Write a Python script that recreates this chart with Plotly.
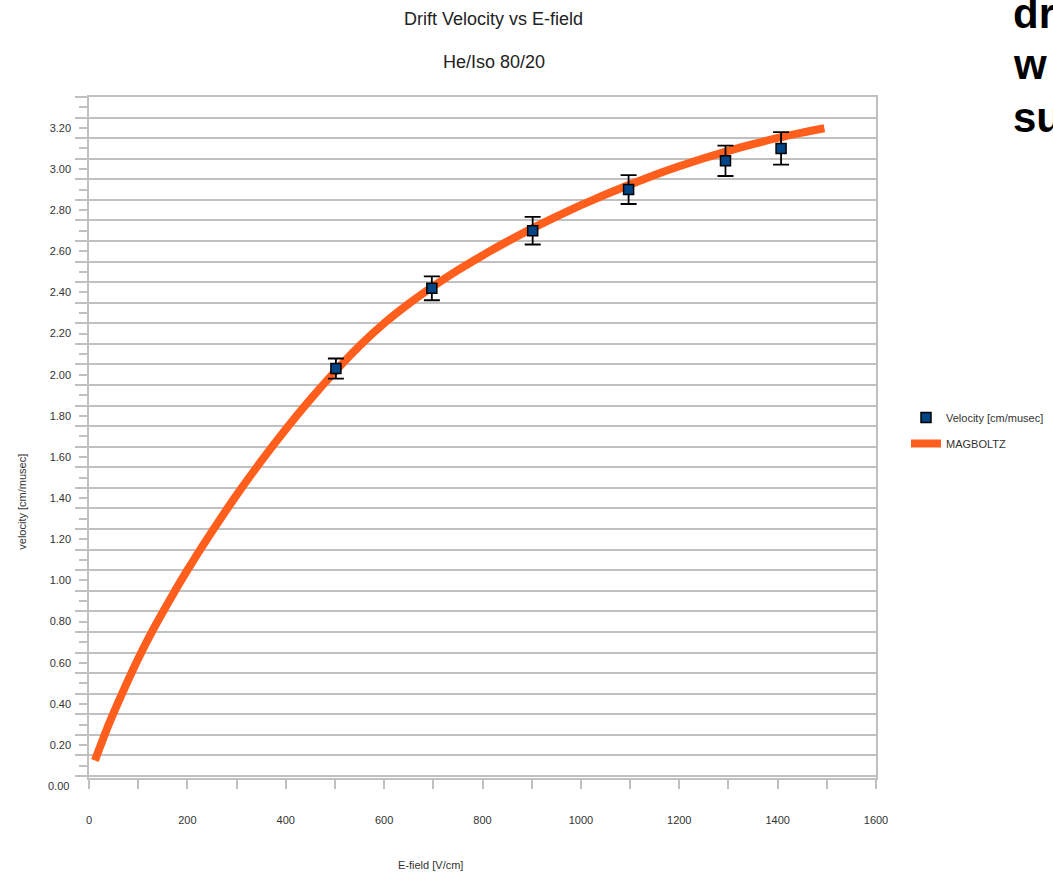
import plotly.graph_objects as go

# MAGBOLTZ simulation curve (E-field [V/cm], velocity [cm/musec])
mag_E = [12, 40, 70, 100, 130, 170, 200, 230, 270, 300, 350, 400, 450, 500, 550,
         600, 650, 700, 750, 800, 850, 900, 950, 1000, 1050, 1100, 1150, 1200,
         1250, 1300, 1350, 1400, 1450, 1495]
mag_v = [0.125, 0.30, 0.465, 0.62, 0.76, 0.93, 1.05, 1.165, 1.31, 1.415, 1.58, 1.735,
         1.88, 2.015, 2.14, 2.25, 2.345, 2.43, 2.508, 2.58, 2.647, 2.71, 2.769, 2.824,
         2.876, 2.925, 2.971, 3.013, 3.052, 3.088, 3.121, 3.151, 3.177, 3.198]

# Measured velocity points with error bars
meas_E = [502, 697, 902, 1097, 1294, 1407]
meas_v = [2.03, 2.42, 2.70, 2.90, 3.04, 3.10]
meas_err = [0.049, 0.058, 0.067, 0.070, 0.074, 0.079]

# Axis ticks
x_ticks = list(range(0, 1700, 100))
x_labels = [str(v) if v % 200 == 0 else "" for v in x_ticks]
y_ticks = [round(0.1 * i, 1) for i in range(0, 34)]
y_labels = [f"{v:.2f}" if i % 2 == 0 else "" for i, v in enumerate(y_ticks)]
y_grid = [round(0.05 + 0.1 * i, 2) for i in range(0, 34)]

GRID = "#c0c0c0"
TXT = "#333333"
FONT = "Liberation Sans, Arial, sans-serif"

fig = go.Figure()
fig.add_trace(go.Scatter(
    x=mag_E, y=mag_v, mode="lines", name="MAGBOLTZ",
    line=dict(color="#ff5e1c", width=8, shape="spline", smoothing=0.6),
    legendrank=2, legendgroup="mag",
))
fig.add_trace(go.Scatter(
    x=meas_E, y=meas_v, mode="markers", name="Velocity [cm/musec]",
    marker=dict(symbol="square", size=10, color="#004586",
                line=dict(color="#000000", width=1.5)),
    error_y=dict(type="data", array=meas_err, visible=True,
                 color="#000000", thickness=1.8, width=8),
    legendrank=1, legendgroup="vel",
))

fig.update_layout(
    width=1053, height=874,
    margin=dict(l=89, r=177, t=97, b=96, pad=0, autoexpand=False),
    paper_bgcolor="white", plot_bgcolor="white",
    font=dict(family=FONT, size=11, color=TXT),
    showlegend=True,
    legend=dict(xref="container", yref="container", x=0.8604, y=0.5389,
                xanchor="left", yanchor="top", tracegroupgap=7,
                font=dict(size=11, color=TXT), bgcolor="rgba(0,0,0,0)"),
    xaxis=dict(
        range=[0, 1600], tickmode="array", tickvals=x_ticks, ticktext=x_labels,
        ticks="outside", ticklen=9, tickwidth=1.5, tickcolor=GRID,
        showline=True, linecolor=GRID, linewidth=1.5, mirror=True,
        showgrid=False, zeroline=False, ticklabelstandoff=22,
        tickfont=dict(size=11, color=TXT),
    ),
    yaxis=dict(
        range=[0.04, 3.35], tickmode="array", tickvals=y_ticks, ticktext=y_labels,
        ticks="outside", ticklen=8, tickwidth=1.5, tickcolor=GRID,
        showline=True, linecolor=GRID, linewidth=1.5, mirror=True,
        showgrid=False, zeroline=False, ticklabelstandoff=6,
        tickfont=dict(size=11, color=TXT),
        minor=dict(tickmode="array", tickvals=y_grid, ticks="outside", ticklen=12,
                   tickwidth=1.5, tickcolor=GRID, showgrid=True,
                   gridcolor=GRID, gridwidth=1.5),
    ),
)

ann = [
    dict(text="Drift Velocity vs E-field", x=0.5146, y=1.1145, font=dict(size=18, color="#222222")),
    dict(text="He/Iso 80/20", x=0.5146, y=1.0514, font=dict(size=18, color="#222222")),
    dict(text="E-field [V/cm]", x=0.4333, y=-0.1278, font=dict(size=11, color=TXT)),
    dict(text="velocity [cm/musec]", x=-0.0855, y=0.4053, textangle=-90,
         font=dict(size=11, color=TXT)),
    dict(text="0.00", x=-0.0225, y=-0.0121, xanchor="right", font=dict(size=11, color=TXT)),
    dict(text="dr", x=1.171, y=1.1233, xanchor="left", font=dict(size=42, color="#000000")),
    dict(text="w", x=1.171, y=1.0470, xanchor="left", font=dict(size=42, color="#000000")),
    dict(text="su", x=1.171, y=0.9706, xanchor="left", font=dict(size=42, color="#000000")),
]
for a in ann:
    a.setdefault("xanchor", "center")
    a.setdefault("yanchor", "middle")
    a.update(xref="paper", yref="paper", showarrow=False)
for a in ann[5:]:
    a["text"] = "<b>" + a["text"] + "</b>"
fig.update_layout(annotations=ann)

fig.write_html("out.html")
